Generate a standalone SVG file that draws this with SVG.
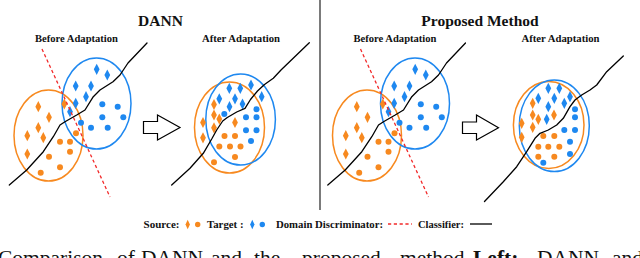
<svg xmlns="http://www.w3.org/2000/svg" width="640" height="258" viewBox="0 0 640 258">
<style>
.t{font-family:"Liberation Serif","Times New Roman",serif;font-weight:bold;fill:#111}
.cap{font-family:"Liberation Serif","Times New Roman",serif;fill:#111;font-size:21.5px}
.eo{fill:none;stroke:#F7891F;stroke-width:1.5}
.eb{fill:none;stroke:#1E88F0;stroke-width:1.5}
.o{fill:#F7891F}
.b{fill:#1E88F0}
.clf{fill:none;stroke:#000;stroke-width:1.3;stroke-linejoin:round;stroke-linecap:round}
.dd{fill:none;stroke:#F22A2A;stroke-width:1.3;stroke-dasharray:3.2 2.6}
.arr{fill:#fff;stroke:#000;stroke-width:1.2;stroke-linejoin:miter}
</style>
<defs>
<path id="dia" d="M0,-5.6 L2.9,0 L0,5.6 L-2.9,0Z"/>
<path id="diaS" d="M0,-4.7 L2.2,0 L0,4.7 L-2.2,0Z"/>
</defs>
<rect width="640" height="258" fill="#fff"/>

<line x1="320" y1="0" x2="320" y2="210" stroke="#333" stroke-width="1.3"/>

<text class="t" x="160.5" y="26" font-size="15.5" text-anchor="middle">DANN</text>
<text class="t" x="480" y="26" font-size="15.5" text-anchor="middle">Proposed Method</text>

<!-- DANN before -->
<g id="dann-before">
<text class="t" x="76.5" y="42" font-size="10.8" text-anchor="middle" textLength="83" lengthAdjust="spacingAndGlyphs">Before Adaptation</text>
<ellipse class="eo" cx="48.5" cy="135.5" rx="34.5" ry="45.5"/>
<ellipse class="eb" cx="96.5" cy="103.5" rx="34.5" ry="45.5"/>
<g class="o">
<use href="#dia" x="38.3" y="106.7"/><use href="#dia" x="49" y="117.3"/><use href="#dia" x="38.3" y="127.7"/><use href="#dia" x="27.3" y="135.7"/><use href="#dia" x="43.3" y="137.7"/><use href="#dia" x="27.3" y="154"/><use href="#dia" x="64.3" y="104"/>
<circle cx="60" cy="141.7" r="3"/><circle cx="70" cy="141.7" r="3"/><circle cx="76" cy="133.3" r="3"/><circle cx="70" cy="151.7" r="3"/><circle cx="49" cy="156.7" r="3"/><circle cx="60" cy="167.3" r="3"/><circle cx="40.7" cy="172.7" r="3"/>
</g>
<g class="b">
<use href="#dia" x="96.7" y="69.3"/><use href="#dia" x="107.3" y="75"/><use href="#dia" x="75.7" y="86"/><use href="#dia" x="91" y="86"/><use href="#dia" x="86" y="96.7"/><use href="#dia" x="75.7" y="103.3"/><use href="#dia" x="70" y="111.7"/>
<circle cx="102.3" cy="104.3" r="3"/><circle cx="117.7" cy="106.7" r="3"/><circle cx="102.3" cy="117.3" r="3"/><circle cx="123.3" cy="117.3" r="3"/><circle cx="81" cy="122.7" r="3"/><circle cx="91" cy="127.7" r="3"/><circle cx="107.7" cy="127.7" r="3"/>
</g>
<line class="dd" x1="42" y1="49" x2="110" y2="197"/>
<path class="clf" d="M9.3,185 L26.7,170 L43.3,151.7 L53.3,136.7 L60,125 L65,121.7 L76.7,115 L85,110 L93.3,96.7 L100,90 L113,81.7 L120,75 L128,63 L147,43"/>
</g>

<!-- DANN after -->
<g id="dann-after">
<text class="t" x="241" y="42" font-size="10.8" text-anchor="middle" textLength="78" lengthAdjust="spacingAndGlyphs">After Adaptation</text>
<ellipse class="eo" cx="229.5" cy="127.5" rx="35" ry="45.5"/>
<ellipse class="eb" cx="240.6" cy="119.5" rx="34.8" ry="45.5"/>
<g class="b">
<use href="#dia" x="229.3" y="88.3"/><use href="#dia" x="240.3" y="88.3"/><use href="#dia" x="251" y="85"/><use href="#dia" x="219.3" y="98.8"/><use href="#dia" x="235" y="98.8"/><use href="#dia" x="229.5" y="106.7"/><use href="#dia" x="242.5" y="104"/><use href="#dia" x="261.7" y="96.7"/>
<circle cx="224.3" cy="114" r="3"/><circle cx="256.5" cy="109.3" r="3"/><circle cx="246" cy="117.3" r="3"/><circle cx="256.5" cy="117.3" r="3"/><circle cx="246" cy="130.3" r="3"/><circle cx="256.5" cy="130.3" r="3"/><circle cx="251" cy="141" r="3"/>
</g>
<g class="o">
<use href="#dia" x="214" y="104.5"/><use href="#dia" x="214" y="115"/><use href="#dia" x="203" y="122.5"/><use href="#dia" x="219.3" y="119"/><use href="#dia" x="214" y="127.8"/><use href="#dia" x="203" y="137.8"/><use href="#dia" x="235" y="122.5"/>
<circle cx="224.5" cy="136" r="3"/><circle cx="235" cy="136" r="3"/><circle cx="219.3" cy="146.4" r="3"/><circle cx="230" cy="146.4" r="3"/><circle cx="240.5" cy="146.4" r="3"/><circle cx="235" cy="157" r="3"/><circle cx="214" cy="162.2" r="3"/>
</g>
<path class="clf" d="M171.7,185 L190,168.3 L203.3,153.3 L211.7,139 L216.7,130 L222.7,121 L227.3,117.5 L236.7,112 L245,108.3 L250.5,99.5 L257.5,91 L264.5,84.5 L273.3,78.3 L281,70 L309.3,42.7"/>
</g>

<!-- Proposed before -->
<g id="proposed-before" transform="translate(318.5,0)">
<text class="t" x="76.5" y="42" font-size="10.8" text-anchor="middle" textLength="83" lengthAdjust="spacingAndGlyphs">Before Adaptation</text>
<ellipse class="eo" cx="48.5" cy="135.5" rx="34.5" ry="45.5"/>
<ellipse class="eb" cx="96.5" cy="103.5" rx="34.5" ry="45.5"/>
<g class="o">
<use href="#dia" x="38.3" y="106.7"/><use href="#dia" x="49" y="117.3"/><use href="#dia" x="38.3" y="127.7"/><use href="#dia" x="27.3" y="135.7"/><use href="#dia" x="43.3" y="137.7"/><use href="#dia" x="27.3" y="154"/><use href="#dia" x="64.3" y="104"/>
<circle cx="60" cy="141.7" r="3"/><circle cx="70" cy="141.7" r="3"/><circle cx="76" cy="133.3" r="3"/><circle cx="70" cy="151.7" r="3"/><circle cx="49" cy="156.7" r="3"/><circle cx="60" cy="167.3" r="3"/><circle cx="40.7" cy="172.7" r="3"/>
</g>
<g class="b">
<use href="#dia" x="96.7" y="69.3"/><use href="#dia" x="107.3" y="75"/><use href="#dia" x="75.7" y="86"/><use href="#dia" x="91" y="86"/><use href="#dia" x="86" y="96.7"/><use href="#dia" x="75.7" y="103.3"/><use href="#dia" x="70" y="111.7"/>
<circle cx="102.3" cy="104.3" r="3"/><circle cx="117.7" cy="106.7" r="3"/><circle cx="102.3" cy="117.3" r="3"/><circle cx="123.3" cy="117.3" r="3"/><circle cx="81" cy="122.7" r="3"/><circle cx="91" cy="127.7" r="3"/><circle cx="107.7" cy="127.7" r="3"/>
</g>
<line class="dd" x1="42" y1="49" x2="110" y2="197"/>
<path class="clf" d="M9.3,185 L26.7,170 L43.3,151.7 L53.3,136.7 L60,125 L65,121.7 L76.7,115 L85,110 L93.3,96.7 L100,90 L113,81.7 L120,75 L128,63 L147,43"/>
</g>

<!-- Proposed after -->
<g id="proposed-after">
<text class="t" x="560.5" y="42" font-size="10.8" text-anchor="middle" textLength="78" lengthAdjust="spacingAndGlyphs">After Adaptation</text>
<ellipse class="eo" cx="548.7" cy="125" rx="35.3" ry="43.5"/>
<ellipse class="eb" cx="554.3" cy="125.8" rx="35" ry="45.8"/>
<g class="b">
<use href="#dia" x="548.3" y="88.3"/><use href="#dia" x="559.3" y="88.3"/><use href="#dia" x="538.3" y="98.3"/><use href="#dia" x="554.3" y="98.3"/><use href="#dia" x="570" y="96.7"/><use href="#dia" x="548.3" y="106.7"/><use href="#dia" x="564.3" y="103.3"/><use href="#dia" x="546.7" y="119.3"/>
<circle cx="575" cy="109.3" r="3"/><circle cx="575" cy="117.3" r="3"/><circle cx="564.3" cy="130" r="3"/><circle cx="575" cy="130" r="3"/><circle cx="570" cy="141.7" r="3"/><circle cx="570" cy="154" r="3"/><circle cx="543.3" cy="162.7" r="3"/>
</g>
<g class="o">
<use href="#dia" x="532.7" y="103.3"/><use href="#dia" x="532.7" y="115"/><use href="#dia" x="538.3" y="119.3"/><use href="#dia" x="521.7" y="123.3"/><use href="#dia" x="532.7" y="127.3"/><use href="#dia" x="521.7" y="137.3"/><use href="#dia" x="554" y="115"/>
<circle cx="543.3" cy="136" r="3"/><circle cx="554.3" cy="136" r="3"/><circle cx="538.3" cy="146.7" r="3"/><circle cx="548.3" cy="146.7" r="3"/><circle cx="559.3" cy="146.7" r="3"/><circle cx="538.3" cy="156.7" r="3"/><circle cx="554.3" cy="156.7" r="3"/>
</g>
<path class="clf" d="M484.5,201.5 L503.3,181.7 L516.7,166.7 L526.7,151.7 L535,138.3 L540,133.3 L548.3,130 L556.7,125 L563.3,118.3 L570,106.7 L575,100 L581.7,95 L590,90 L596.7,85 L606.7,71.7 L623.3,56"/>
</g>

<!-- connectors: adaptation arrows -->
<g id="connectors">
<polygon class="arr" points="143.5,121.5 157.5,121.5 157.5,115 180,127.5 157.5,140 157.5,133.5 143.5,133.5"/>
<polygon class="arr" points="462.5,122 476.5,122 476.5,115 498.5,127.7 476.5,140 476.5,133.5 462.5,133.5"/>
</g>

<!-- legend -->
<g id="legend">
<text class="t" x="143.5" y="228" font-size="11" textLength="36" lengthAdjust="spacingAndGlyphs">Source:</text>
<use href="#diaS" x="187.7" y="224.5" class="o"/>
<circle cx="197.7" cy="224.5" r="2.7" class="o"/>
<text class="t" x="207" y="228" font-size="11" textLength="36.5" lengthAdjust="spacingAndGlyphs">Target :</text>
<use href="#diaS" x="252.3" y="224.5" class="b"/>
<circle cx="262.3" cy="224.5" r="2.7" class="b"/>
<text class="t" x="276" y="228" font-size="11" textLength="107" lengthAdjust="spacingAndGlyphs">Domain Discriminator:</text>
<line class="dd" x1="388" y1="224" x2="412" y2="224"/>
<text class="t" x="418" y="228" font-size="11" textLength="46" lengthAdjust="spacingAndGlyphs">Classifier:</text>
<line x1="470" y1="224" x2="492" y2="224" stroke="#000" stroke-width="1.3"/>
</g>

<!-- caption (cut off at bottom, as in the reference) -->
<text class="cap" y="265"><tspan x="-2">Comparison</tspan><tspan x="117">of</tspan><tspan x="141">DANN</tspan><tspan x="211">and</tspan><tspan x="254">the</tspan><tspan x="302">proposed</tspan><tspan x="400">method.</tspan><tspan x="473" font-weight="bold">Left:</tspan><tspan x="537">DANN</tspan><tspan x="612">and</tspan></text>
</svg>
